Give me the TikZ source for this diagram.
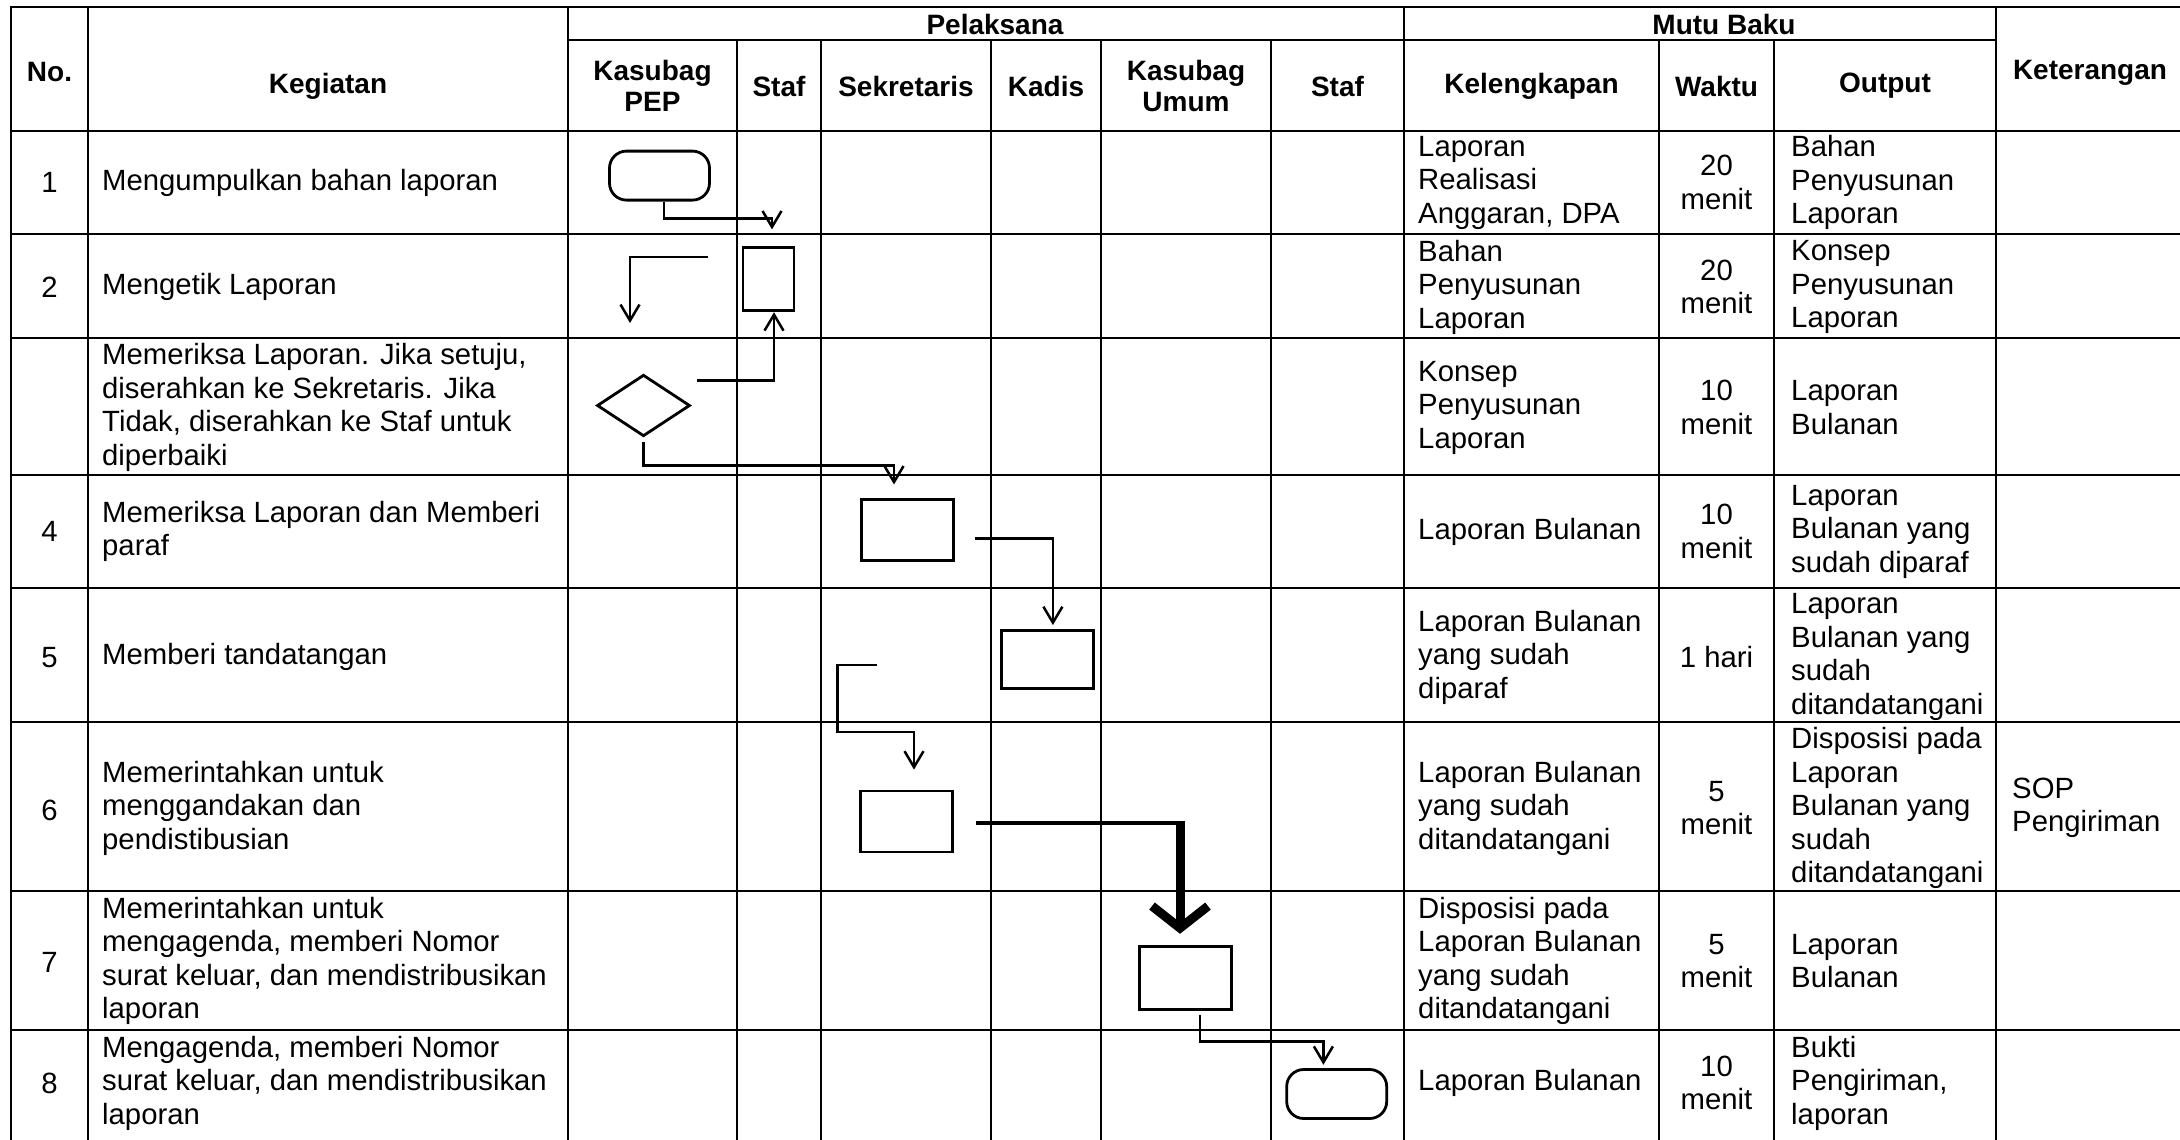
\documentclass[tikz,border=0pt]{standalone}
\usepackage{fontspec}
\setmainfont{Liberation Sans}
\usepackage{tikz}
\usetikzlibrary{shapes,arrows,arrows.meta,positioning,calc}

\begin{document}
\begin{tikzpicture}[
    x=1pt, y=-1pt,
    grid/.style={line width=2.3pt, line cap=rect},
    head/.style={font=\fontsize{28}{31}\selectfont\bfseries, align=center, inner sep=0pt},
    cell/.style={font=\fontsize{29.3}{33.5}\selectfont, align=left, anchor=west, inner sep=0pt},
    num/.style={font=\fontsize{29.3}{33.5}\selectfont, align=center, inner sep=0pt},
    process/.style={draw, line width=2.8pt, minimum width=92pt, minimum height=61pt, inner sep=0pt},
    terminator/.style={draw, line width=2.8pt, rounded corners=17pt, minimum width=100pt, minimum height=49pt, inner sep=0pt},
    decision/.style={draw, diamond, line width=2.8pt, minimum width=93pt, minimum height=61.5pt, inner sep=0pt},
    flow/.style={line width=2.5pt, -{Straight Barb[length=16pt, width=19pt]}},
    bigflow/.style={line width=9pt, -{Straight Barb[length=22pt, width=56pt]}}
]
    \useasboundingbox (0,0) rectangle (2180,1140);
    \clip (0,0) rectangle (2180,1140);

    % table lines
    \draw[grid] (11,7) -- (2180,7);
    \draw[grid] (568,40) -- (1996,40);
    \foreach \y in {131,234,338,475,588,722,891,1030}
        \draw[grid] (11,\y) -- (2180,\y);
    \foreach \x in {11,88,568,1404,1996}
        \draw[grid] (\x,7) -- (\x,1145);
    \foreach \x in {737,821,991,1101,1271,1659,1774}
        \draw[grid] (\x,40) -- (\x,1145);

    % header
    \node[head] (hno) at (49.5,72) {No.};
    \node[head] (hkeg) at (328,86) {Kegiatan};
    \node[head] (hpel) at (995,24) {Pelaksana};
    \node[head] (hmutu) at (1724,24) {Mutu Baku};
    \node[head] (hket) at (2090,73) {Keterangan};
    \node[head] (hpep) at (652.5,86) {Kasubag\\PEP};
    \node[head] (hstaf) at (779,86) {Staf};
    \node[head] (hsek) at (906,86) {Sekretaris};
    \node[head] (hkadis) at (1046,86) {Kadis};
    \node[head] (humum) at (1186,86) {Kasubag\\Umum};
    \node[head] (hstafb) at (1337.5,86) {Staf};
    \node[head] (hkel) at (1531.5,86) {Kelengkapan};
    \node[head] (hwaktu) at (1716.5,86) {Waktu};
    \node[head] (hout) at (1885,86) {Output};

    % row numbers (row 3 has none)
    \foreach \n/\y in {1/182.5,2/287,4/531.5,5/658,6/810,7/962,8/1083}
        \node[num] (no\n) at (49.5,\y) {\n};

    % row 1
    \node[cell] (keg1) at (102,182.5) {Mengumpulkan bahan laporan};
    \node[cell] (kel1) at (1418,182.5) {Laporan\\Realisasi\\Anggaran, DPA};
    \node[num] (w1) at (1716.5,182.5) {20\\menit};
    \node[cell] (out1) at (1791,182.5) {Bahan\\Penyusunan\\Laporan};
    % row 2
    \node[cell] (keg2) at (102,287) {Mengetik Laporan};
    \node[cell] (kel2) at (1418,287) {Bahan\\Penyusunan\\Laporan};
    \node[num] (w2) at (1716.5,287) {20\\menit};
    \node[cell] (out2) at (1791,287) {Konsep\\Penyusunan\\Laporan};
    % row 3
    \node[cell] (keg3) at (102,407.5) {Memeriksa Laporan. Jika setuju,\\diserahkan ke Sekretaris. Jika\\Tidak, diserahkan ke Staf untuk\\diperbaiki};
    \node[cell] (kel3) at (1418,407.5) {Konsep\\Penyusunan\\Laporan};
    \node[num] (w3) at (1716.5,407.5) {10\\menit};
    \node[cell] (out3) at (1791,407.5) {Laporan\\Bulanan};
    % row 4
    \node[cell] (keg4) at (102,531.5) {Memeriksa Laporan dan Memberi\\paraf};
    \node[cell] (kel4) at (1418,531.5) {Laporan Bulanan};
    \node[num] (w4) at (1716.5,531.5) {10\\menit};
    \node[cell] (out4) at (1791,531.5) {Laporan\\Bulanan yang\\sudah diparaf};
    % row 5
    \node[cell] (keg5) at (102,657) {Memberi tandatangan};
    \node[cell] (kel5) at (1418,657) {Laporan Bulanan\\yang sudah\\diparaf};
    \node[num] (w5) at (1716.5,657) {1 hari};
    \node[cell] (out5) at (1791,657) {Laporan\\Bulanan yang\\sudah\\ditandatangani};
    % row 6
    \node[cell] (keg6) at (102,808) {Memerintahkan untuk\\menggandakan dan\\pendistibusian};
    \node[cell] (kel6) at (1418,808) {Laporan Bulanan\\yang sudah\\ditandatangani};
    \node[num] (w6) at (1716.5,808) {5\\menit};
    \node[cell] (out6) at (1791,808) {Disposisi pada\\Laporan\\Bulanan yang\\sudah\\ditandatangani};
    \node[cell] (ket6) at (2012,808) {SOP\\Pengiriman};
    % row 7
    \node[cell] (keg7) at (102,961) {Memerintahkan untuk\\mengagenda, memberi Nomor\\surat keluar, dan mendistribusikan\\laporan};
    \node[cell] (kel7) at (1418,961) {Disposisi pada\\Laporan Bulanan\\yang sudah\\ditandatangani};
    \node[num] (w7) at (1716.5,961) {5\\menit};
    \node[cell] (out7) at (1791,961) {Laporan\\Bulanan};
    % row 8
    \node[cell] (keg8) at (102,1083) {Mengagenda, memberi Nomor\\surat keluar, dan mendistribusikan\\laporan};
    \node[cell] (kel8) at (1418,1083) {Laporan Bulanan};
    \node[num] (w8) at (1716.5,1083) {10\\menit};
    \node[cell] (out8) at (1791,1083) {Bukti\\Pengiriman,\\laporan};

    % flowchart symbols
    \node[terminator] (mulai) at (659.5,175.6) {};
    \node[process, minimum width=51pt, minimum height=63pt] (ketik) at (768.5,279.3) {};
    \node[decision] (periksa) at (643.5,405.5) {};
    \node[process] (paraf) at (907.5,530) {};
    \node[process, minimum height=58pt] (ttd) at (1047.7,659.5) {};
    \node[process] (gandakan) at (906.3,821.5) {};
    \node[process, minimum height=63pt] (agenda) at (1185.7,977.7) {};
    \node[terminator] (selesai) at (1336.7,1094) {};

    % free ends
    \coordinate (balik1) at (708,257);
    \coordinate (balik2) at (630,323);
    \coordinate (revisi) at (697,380.7);
    \coordinate (balik3) at (876.8,665);
    \coordinate (tebal1) at ([xshift=21.8pt,yshift=-1.5pt]gandakan.east);
    \coordinate (tebal2) at ([xshift=-5.7pt]agenda.north);
    \coordinate (tekuk) at (tebal1 -| tebal2);

    % connectors
    \draw[flow, shorten >=17pt] ([xshift=4.5pt]mulai.south) -- ++(0,17) -| ([xshift=3.5pt]ketik.north);
    \draw[flow] (balik1) -| (balik2);
    \draw[flow] (revisi) -| ([xshift=5.5pt]ketik.south);
    \draw[flow, shorten <=4pt, shorten >=13.6pt] (periksa.south) -- ++(0,27.7) -| ([xshift=-13.5pt]paraf.north);
    \draw[flow, shorten >=4pt] ([xshift=20pt,yshift=-8.6pt]paraf.east) -| ([xshift=5.2pt]ttd.north);
    \draw[flow, shorten >=20pt] (balik3) -- ++(-39.4,0) -- ++(0,67) -| ([xshift=7.7pt]gandakan.north);
    \draw[line width=4.2pt] (tebal1) -- (tekuk);
    \draw[bigflow, shorten >=11pt] ([yshift=2.1pt]tekuk) -- (tebal2);
    \draw[flow, shorten <=4pt, shorten >=3.3pt] ([xshift=14.5pt]agenda.south) -- ++(0,31) -| ([xshift=-13.3pt]selesai.north);
\end{tikzpicture}
\end{document}
